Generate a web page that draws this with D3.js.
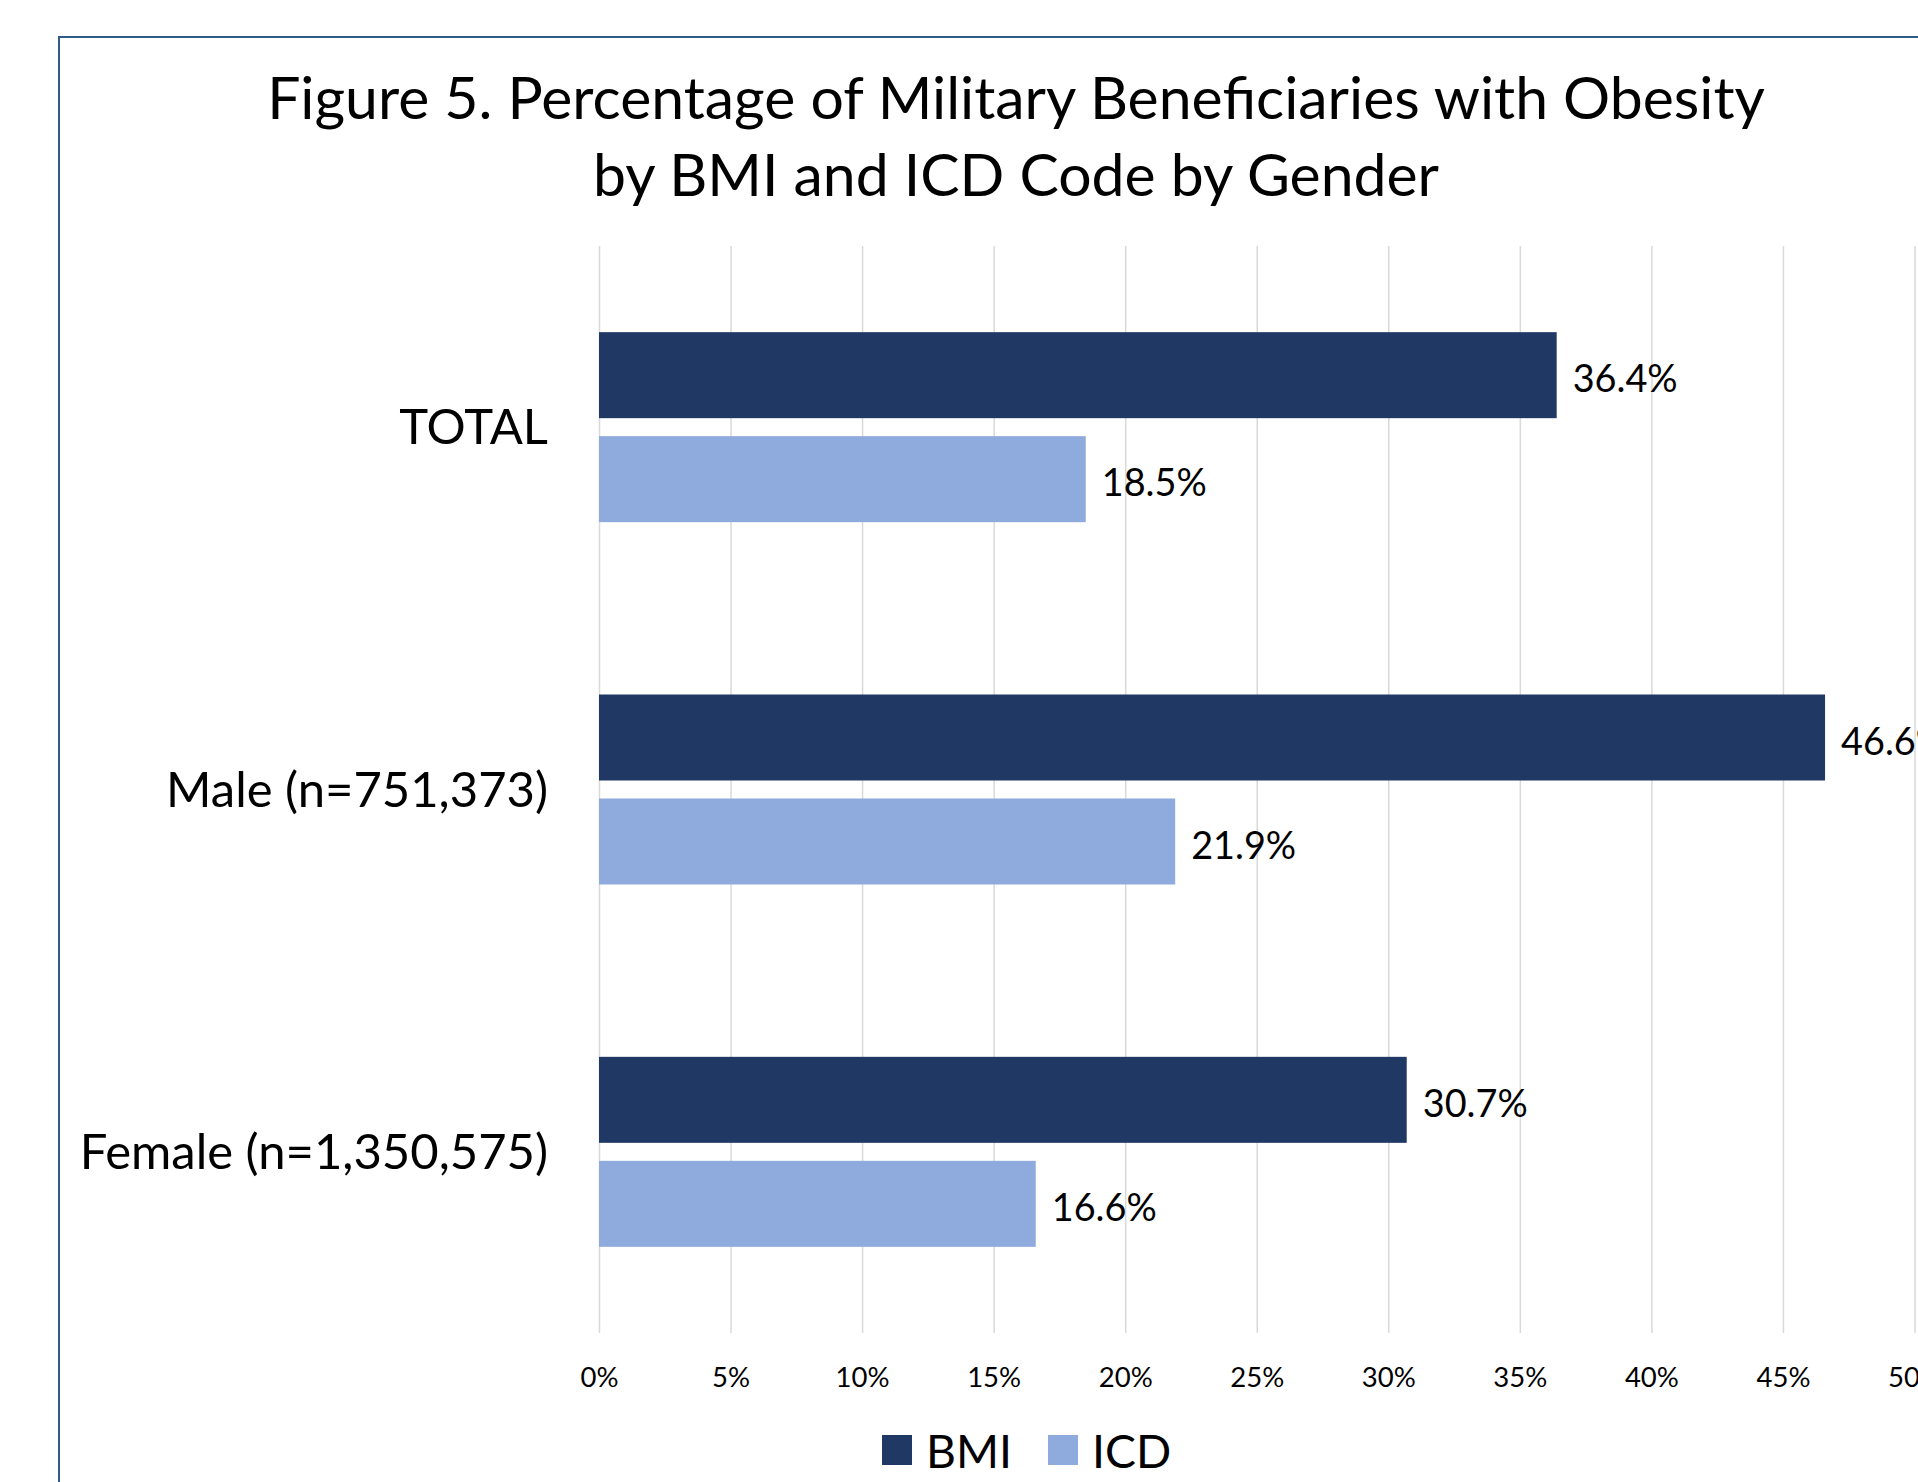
<!DOCTYPE html>
<html><head><meta charset="utf-8">
<script src="https://cdn.jsdelivr.net/npm/d3@7/dist/d3.min.js"></script>
<style>html,body{margin:0;padding:0;background:#fff;overflow:hidden}</style>
</head><body>
<svg id="c" width="1918" height="1482"></svg>
<script>
const categories = ["TOTAL", "Male (n=751,373)", "Female (n=1,350,575)"];
const seriesNames = ["BMI", "ICD"];
const bmiValues = [36.4, 46.6, 30.7];
const icdValues = [18.5, 21.9, 16.6];
const tickValues = [0, 5, 10, 15, 20, 25, 30, 35, 40, 45, 50];
const titleLines = ["Figure 5. Percentage of Military Beneficiaries with Obesity", "by BMI and ICD Code by Gender"];
const colors = {BMI: "#203864", ICD: "#8faadc"};

const FONT = "Lato, 'Open Sans', sans-serif";
const svg = d3.select("#c");

function fitSize(text, target, base) {
  const t = svg.append("text").attr("font-family", FONT).attr("font-size", base).text(text);
  const w = t.node().getComputedTextLength();
  t.remove();
  return base * target / w;
}

// border
svg.append("rect").attr("x", 59).attr("y", 37).attr("width", 2000).attr("height", 2000)
  .attr("fill", "none").attr("stroke", "#2f5b88").attr("stroke-width", 2);

// title
const titleSize = fitSize(titleLines[0], 1498, 50);
svg.append("g").selectAll("text").data(titleLines).join("text")
  .attr("x", 1016).attr("y", (d, i) => 119 + i * 77)
  .attr("text-anchor", "middle").attr("font-family", FONT).attr("font-size", titleSize)
  .attr("fill", "#000").text(d => d);

const plotTop = 246, plotBottom = 1333;
const x = d3.scaleLinear().domain([0, 50]).range([599, 1914.5]);
const y = d3.scaleBand().domain(categories).range([plotTop, plotBottom]);
const groupH = 190;
const ySub = d3.scaleBand().domain(seriesNames).range([0, groupH]).paddingInner(0.173);

// gridlines + axis labels
const tickSize = fitSize("10%", 54, 20);
const axis = d3.axisBottom(x).tickValues(tickValues).tickFormat(d => d + "%")
  .tickSizeInner(-(plotBottom - plotTop)).tickSizeOuter(0).tickPadding(34);
const ag = svg.append("g").attr("transform", `translate(0,${plotBottom})`).call(axis);
ag.select(".domain").remove();
ag.selectAll(".tick line").attr("stroke", "#d9d9d9").attr("stroke-width", 1.5);
ag.selectAll(".tick text").attr("font-family", FONT).attr("font-size", tickSize).attr("fill", "#000");

// bars
const rows = [];
categories.forEach((c, i) => {
  rows.push({cat: c, s: "BMI", v: bmiValues[i]});
  rows.push({cat: c, s: "ICD", v: icdValues[i]});
});
const off = (y.bandwidth() - groupH) / 2;
svg.append("g").selectAll("rect").data(rows).join("rect")
  .attr("x", x(0)).attr("y", d => y(d.cat) + off + ySub(d.s))
  .attr("width", d => x(d.v) - x(0)).attr("height", ySub.bandwidth())
  .attr("fill", d => colors[d.s]);

// data labels
const labelSize = fitSize("36.4%", 105, 30);
svg.append("g").selectAll("text").data(rows).join("text")
  .attr("x", d => x(d.v) + 16).attr("y", d => y(d.cat) + off + ySub(d.s) + ySub.bandwidth() / 2)
  .attr("dy", "0.45em").attr("font-family", FONT).attr("font-size", labelSize).attr("fill", "#000")
  .text(d => d.v.toFixed(1) + "%");

// category labels
const catSize = fitSize("Male (n=751,373)", 382, 40);
svg.append("g").selectAll("text").data(categories).join("text")
  .attr("x", 548).attr("y", d => y(d) + y.bandwidth() / 2).attr("dy", "0.35em")
  .attr("text-anchor", "end").attr("font-family", FONT).attr("font-size", catSize).attr("fill", "#000")
  .text(d => d);

// legend
const legSize = fitSize("BMI", 86, 40);
const legX = [882, 1048];
const lg = svg.append("g").selectAll("g").data(seriesNames).join("g")
  .attr("transform", (d, i) => `translate(${legX[i]},1435)`);
lg.append("rect").attr("width", 30).attr("height", 30).attr("fill", d => colors[d]);
lg.append("text").attr("x", 44).attr("y", 15).attr("dy", "0.38em")
  .attr("font-family", FONT).attr("font-size", legSize).attr("fill", "#000").text(d => d);
</script>
</body></html>
